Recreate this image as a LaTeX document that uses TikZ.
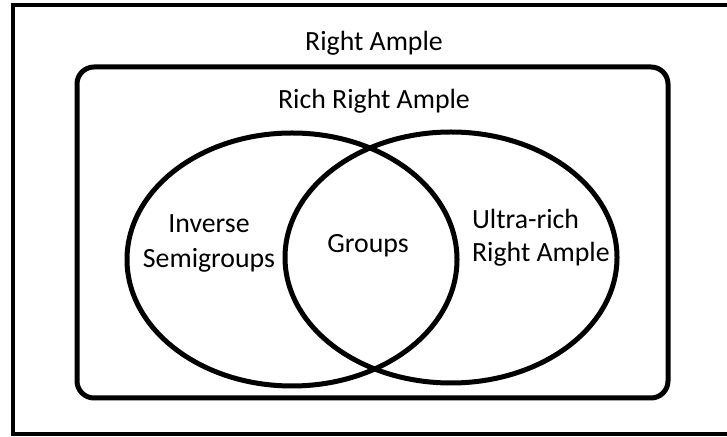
\documentclass[tikz,border=0pt]{standalone}
\usepackage{fontspec}
\setmainfont{Carlito}
\begin{document}
\begin{tikzpicture}[x=0.5pt,y=-0.5pt,
  frame/.style={draw=black,line width=2pt},
  setline/.style={draw=black,line width=2.5pt},
  lbl/.style={inner sep=0pt,font=\fontsize{13.9pt}{17pt}\selectfont,text=black}]
\clip (0,0) rectangle (727,437);
\fill[white] (0,0) rectangle (727,437);
% outer frame (right edge lies beyond the picture)
\draw[frame] (13,5.5) rectangle (745,434.5);
% rich right ample
\draw[setline,rounded corners=8.5pt] (77,67) rectangle (668,398);
% the two sets
\draw[setline] (292,259.5) ellipse [x radius=165, y radius=126.5];
\draw[setline] (451,257.5) ellipse [x radius=166, y radius=125.5];
% labels
\node[lbl,anchor=base] (ra) at (374,51) {Right Ample};
\node[lbl,anchor=base] (rra) at (374,109) {Rich Right Ample};
\node[lbl,anchor=base] (inv1) at (209,232.7) {Inverse};
\node[lbl,anchor=base] (inv2) at (209,267.3) {Semigroups};
\node[lbl,anchor=base] (grp) at (368,253) {Groups};
\node[lbl,anchor=base west] (ur1) at (471.7,228.3) {Ultra-rich};
\node[lbl,anchor=base west] (ur2) at (471.7,261.7) {Right Ample};
\end{tikzpicture}
\end{document}
